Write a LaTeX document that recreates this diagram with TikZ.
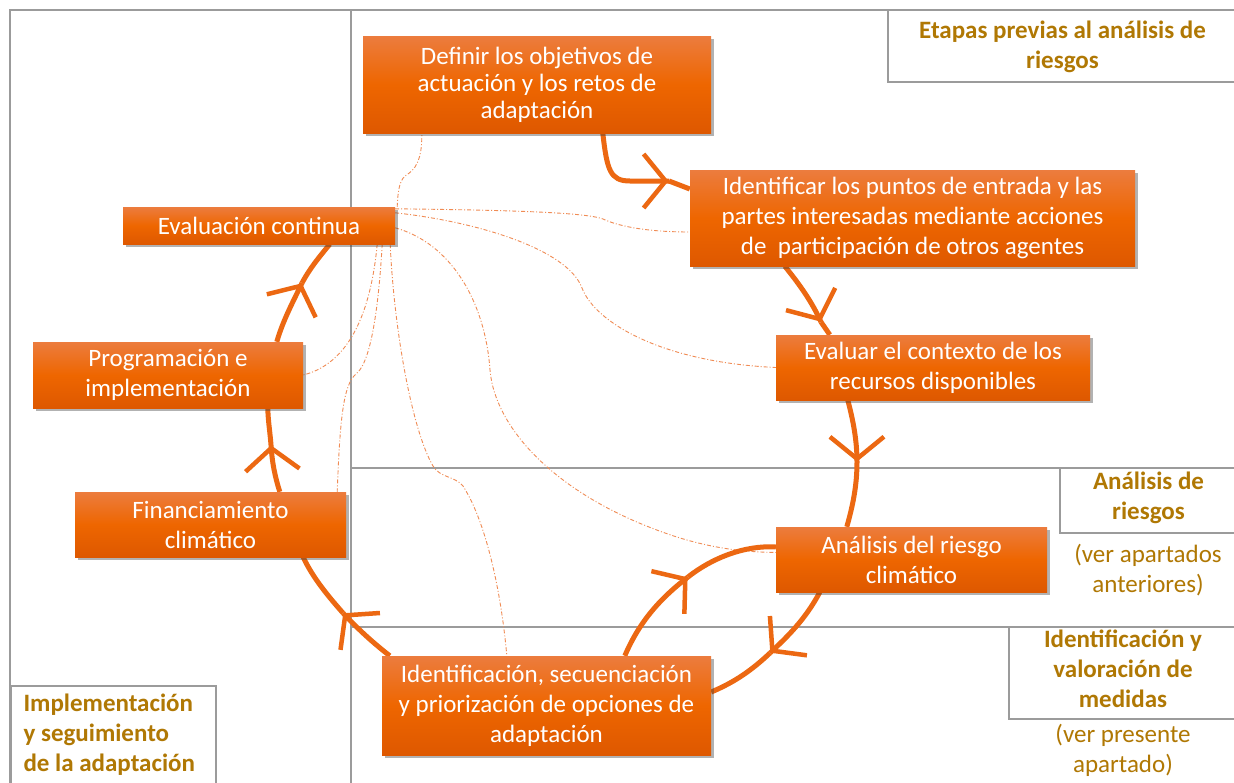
\documentclass[tikz,border=0pt]{standalone}
\usepackage{fontspec}
\setmainfont{Carlito}
\usetikzlibrary{arrows.meta,decorations.markings,shadows}
\definecolor{flowc}{RGB}{236,104,18}
\definecolor{gold}{RGB}{176,120,4}
\definecolor{framec}{RGB}{155,155,155}
\definecolor{dotc}{RGB}{240,140,85}
\definecolor{boxtop}{RGB}{236,124,62}
\definecolor{boxmid}{RGB}{238,102,0}
\definecolor{boxbot}{RGB}{222,88,0}
\pgfdeclarelayer{bg}\pgfdeclarelayer{mid}\pgfsetlayers{bg,mid,main}
\begin{document}
\begin{tikzpicture}[x=1pt,y=-1pt,
  frame/.style={draw=framec,line width=2pt},
  obox/.style={rectangle,inner sep=0pt,top color=boxtop,bottom color=boxbot,middle color=boxmid,
    text=white,align=center,font=\fontsize{25pt}{30pt}\selectfont,
    drop shadow={shadow xshift=3pt,shadow yshift=-3pt,opacity=0.4,fill=black!75}},
  lbox/.style={rectangle,draw=framec,line width=2pt,fill=white,inner sep=0pt},
  ltext/.style={text=gold,align=center,font=\bfseries\fontsize{25pt}{30pt}\selectfont},
  lnote/.style={text=gold,align=center,font=\fontsize{25pt}{30pt}\selectfont},
  flow/.style={draw=flowc,line width=5pt},
  barbed/.style={flow,postaction={decorate,decoration={markings,
    mark=at position 0.995 with {\arrow[flowc]{Straight Barb[length=22pt,width=54pt,line width=4.5pt]}}}}},
  dotl/.style={draw=dotc,line width=0.9pt,dash pattern=on 4pt off 2pt on 1pt off 2pt}]
\useasboundingbox (0,0) rectangle (1234,782);
\begin{pgfonlayer}{bg}
  \fill[white] (0,0) rectangle (1234,782);
  \draw[frame] (10,790) -- (10,10) -- (1240,10);
  \draw[frame] (351,10) -- (351,790);
  \draw[frame] (351,468) -- (1240,468);
  \draw[frame] (351,627) -- (1240,627);
\end{pgfonlayer}

% label boxes
\node[lbox,minimum width=349pt,minimum height=72pt] (lprev) at (1062.5,46) {};
\node[ltext] (tprev) at (1062.5,47) {Etapas previas al análisis de\\riesgos};
\node[lbox,minimum width=177pt,minimum height=65pt] (lanal) at (1148.5,500.5) {};
\node[ltext] (tanal) at (1148.5,498) {Análisis de\\riesgos};
\node[lnote] (nanal) at (1148,570) {(ver apartados\\anteriores)};
\node[lbox,minimum width=228pt,minimum height=92pt] (lmed) at (1123,673) {};
\node[ltext] (tmed) at (1123,669) {Identificación y\\valoración de\\medidas};
\node[lnote] (nmed) at (1123,750) {(ver presente\\apartado)};
\node[lbox,minimum width=205pt,minimum height=110pt,anchor=north west] (limp) at (10,685) {};
\node[ltext,align=left,anchor=west] (timp) at (20,735) {Implementación\\y seguimiento\\de la adaptación};

% orange step boxes
\node[obox,minimum width=348pt,minimum height=97pt,font=\fontsize{25pt}{27pt}\selectfont] (def) at (537,84.5)
  {Definir los objetivos de\\actuación y los retos de\\adaptación};
\node[obox,minimum width=445pt,minimum height=96pt] (idn) at (912.5,218)
  {Identificar los puntos de entrada y las\\partes interesadas mediante acciones\\de\ \ participación de otros agentes};
\node[obox,minimum width=314pt,minimum height=65pt] (evc) at (933,367.5)
  {Evaluar el contexto de los\\recursos disponibles};
\node[obox,minimum width=271pt,minimum height=65pt] (ana) at (911.5,559.5)
  {Análisis del riesgo\\climático};
\node[obox,minimum width=329pt,minimum height=99pt] (ids) at (546.5,705.5)
  {Identificación, secuenciación\\y priorización de opciones de\\adaptación};
\node[obox,minimum width=271pt,minimum height=65pt] (fin) at (210.5,524.5)
  {Financiamiento\\climático};
\node[obox,minimum width=270pt,minimum height=66pt] (prog) at (168,375)
  {Programación e\\implementación};
\node[obox,minimum width=272pt,minimum height=37pt] (ev) at (259,225.5)
  {Evaluación continua};

% tips of the flow arrows
\coordinate (t1) at (669,181);
\coordinate (t2) at (821,322);
\coordinate (t3) at (857,462);
\coordinate (t4) at (770,653);
\coordinate (t5) at (688,577);
\coordinate (t6) at (343,613);
\coordinate (t7) at (271,445);
\coordinate (t8) at (302,283);

\begin{pgfonlayer}{mid}
  % dotted links from Evaluación continua
  \draw[dotl] ([xshift=2pt]ev.north east) .. controls (398,188) and (400,178) .. (408,174)
     .. controls (420,166) and (422,150) .. ([xshift=59pt]def.south west);
  \draw[dotl] ([yshift=-2pt]ev.north east) .. controls (500,210) and (585,212) .. (603,219)
     .. controls (620,227) and (650,232) .. ([yshift=-14pt]idn.west);
  \draw[dotl] ([yshift=-6pt]ev.north east) .. controls (480,222) and (568,250) .. (582,288)
     .. controls (595,322) and (660,362) .. (evc.west);
  \draw[dotl] ([yshift=-21pt]ev.north east) .. controls (450,243) and (485,300) .. (490,370)
     .. controls (495,430) and (560,500) .. (680,538)
     .. controls (720,550) and (750,552) .. ([yshift=7pt]ana.west);
  \draw[dotl] ([xshift=-5pt]ev.south east) .. controls (394,330) and (412,430) .. (433,466)
     .. controls (440,478) and (455,476) .. (463,486)
     .. controls (488,525) and (502,600) .. ([xshift=125pt]ids.north west);
  \draw[dotl] ([xshift=-13pt]ev.south east) .. controls (379,300) and (372,362) .. (356,374)
     .. controls (343,385) and (340,420) .. ([xshift=-9pt]fin.north east);
  \draw[dotl] ([xshift=-18pt]ev.south east) .. controls (372,300) and (355,362) .. (prog.east);

  % main cycle
  \draw[barbed] ([xshift=240pt]def.south west) .. controls (607,170) and (610,181) .. (630,181) -- (t1);
  \draw[flow] (t1) -- ([yshift=29pt]idn.west);
  \draw[barbed] ([xshift=95pt]idn.south west) .. controls (800,285) and (812,302) .. (t2);
  \draw[flow] (t2) -- ([xshift=54pt]evc.north west);
  \draw[barbed] ([xshift=72pt]evc.south west) .. controls (853,420) and (857,440) .. (t3);
  \draw[flow] (t3) .. controls (857,485) and (853,505) .. ([xshift=71pt]ana.north west);
  \draw[barbed] ([xshift=44pt]ana.south west) .. controls (805,620) and (787,637) .. (t4);
  \draw[flow] (t4) .. controls (752,670) and (735,682) .. ([yshift=13.5pt]ids.east);
  \draw[barbed] ([xshift=243pt]ids.north west) .. controls (640,620) and (662,597) .. (t5);
  \draw[flow] (t5) .. controls (712,558) and (745,545) .. ([yshift=12.5pt]ana.west);
  \draw[barbed] ([xshift=8pt]ids.north west) .. controls (372,642) and (357,628) .. (t6);
  \draw[flow] (t6) .. controls (328,596) and (313,578) .. ([xshift=-43pt]fin.south east);
  \draw[barbed] ([xshift=205pt]fin.north west) .. controls (275,477) and (272,462) .. (t7);
  \draw[flow] (t7) .. controls (270,432) and (268,420) .. ([xshift=235pt]prog.south west);
  \draw[barbed] ([xshift=244pt]prog.north west) .. controls (283,320) and (294,300) .. (t8);
  \draw[flow] (t8) .. controls (310,268) and (320,256) .. ([xshift=207pt]ev.south west);
\end{pgfonlayer}
\end{tikzpicture}
\end{document}
